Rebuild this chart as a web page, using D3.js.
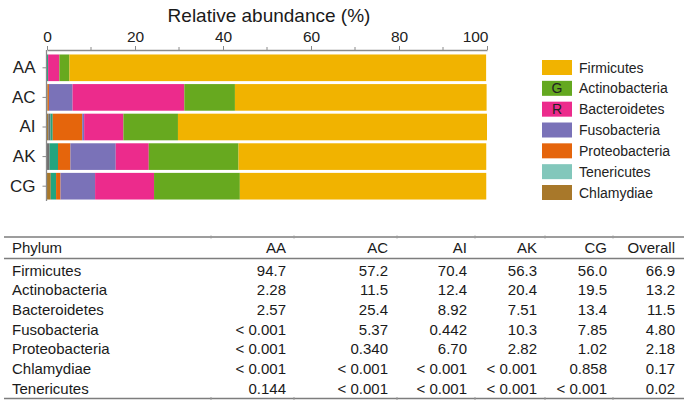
<!DOCTYPE html>
<html><head><meta charset="utf-8">
<script src="https://cdn.jsdelivr.net/npm/d3@7"></script>
<style>
html,body{margin:0;padding:0;background:#fff;}
svg{display:block;font-family:"Liberation Sans",Arial,sans-serif;}
</style></head>
<body>
<svg id="chart" width="687" height="404"></svg>
<script>
// ---- data ----
const sites = ["AA","AC","AI","AK","CG"];
const tickValues = [0,20,40,60,80,100];
const minorTicks = [10,30,50,70,90];
// bar segment values, stacked left to right
const chlamydiae    = [0, 0, 0.3, 0, 0.86];
const other         = [0, 0, 0.5, 0.6, 0];
const tenericutes   = [0.25, 0.1, 0.5, 1.9, 1.2];
const proteobacteria= [0, 0.34, 6.70, 2.82, 1.02];
const fusobacteria  = [0, 5.37, 0.442, 10.3, 7.85];
const bacteroidetes = [2.57, 25.4, 8.92, 7.51, 13.4];
const actinobacteria= [2.28, 11.5, 12.4, 20.4, 19.5];
const firmicutes    = [94.7, 57.2, 70.4, 56.3, 56.0];

const legendNames = ["Firmicutes","Actinobacteria","Bacteroidetes","Fusobacteria","Proteobacteria","Tenericutes","Chlamydiae"];
const legendMarks = ["","G","R","","","",""];

const tableHeader = ["Phylum","AA","AC","AI","AK","CG","Overall"];
const tablePhyla = ["Firmicutes","Actinobacteria","Bacteroidetes","Fusobacteria","Proteobacteria","Chlamydiae","Tenericutes"];
const colAA      = ["94.7","2.28","2.57","< 0.001","< 0.001","< 0.001","0.144"];
const colAC      = ["57.2","11.5","25.4","5.37","0.340","< 0.001","< 0.001"];
const colAI      = ["70.4","12.4","8.92","0.442","6.70","< 0.001","< 0.001"];
const colAK      = ["56.3","20.4","7.51","10.3","2.82","< 0.001","< 0.001"];
const colCG      = ["56.0","19.5","13.4","7.85","1.02","0.858","< 0.001"];
const colOverall = ["66.9","13.2","11.5","4.80","2.18","0.17","0.02"];

// ---- build ----
const keys = ["Chlamydiae","Other","Tenericutes","Proteobacteria","Fusobacteria","Bacteroidetes","Actinobacteria","Firmicutes"];
const series = [chlamydiae,other,tenericutes,proteobacteria,fusobacteria,bacteroidetes,actinobacteria,firmicutes];
const rows = sites.map((s,i)=>{const r={site:s}; keys.forEach((k,j)=>r[k]=series[j][i]); return r;});
const colors = {
  Firmicutes:"#f1b300", Actinobacteria:"#67a91f", Bacteroidetes:"#ec2b8c",
  Fusobacteria:"#7a72b8", Proteobacteria:"#e5650c", Tenericutes:"#23a47f",
  Chlamydiae:"#a8782a", Other:"#6f6f6f"
};
const legendColors = {
  Firmicutes:"#f1b300", Actinobacteria:"#64a820", Bacteroidetes:"#ec2b8c",
  Fusobacteria:"#7a72b8", Proteobacteria:"#e5650c", Tenericutes:"#82c7bb",
  Chlamydiae:"#a8782a"
};
const FONT = "Liberation Sans, Arial, sans-serif";

const svg = d3.select("#chart");
const x = d3.scaleLinear().domain([0,100]).range([47,487]);
const y = d3.scaleBand().domain(sites).range([53,201]).paddingInner(0.1).paddingOuter(0.05);

const stack = d3.stack().keys(keys)(rows);
svg.append("g").selectAll("g").data(stack).join("g")
  .attr("fill", d=>colors[d.key])
  .selectAll("rect").data(d=>d).join("rect")
  .attr("x", d=>x(Math.min(d[0],100)))
  .attr("width", d=>Math.max(0, x(Math.min(d[1],100))-x(Math.min(d[0],100))))
  .attr("y", d=>y(d.data.site))
  .attr("height", y.bandwidth());

// title
svg.append("text").attr("x",269).attr("y",22).attr("text-anchor","middle")
  .attr("font-size",19).attr("fill","#1a1a1a").text("Relative abundance (%)");

// top axis
const xAxis = svg.append("g").attr("transform","translate(0,50)")
  .call(d3.axisTop(x).tickValues(tickValues).tickSize(4).tickPadding(4).tickSizeOuter(0));
xAxis.select(".domain").attr("stroke","#8a8a8a").attr("stroke-width",1.3);
xAxis.selectAll(".tick line").attr("stroke","#8a8a8a");
xAxis.selectAll("text").attr("font-size",15.5).attr("fill","#222").attr("font-family",FONT);
xAxis.selectAll(".tick").filter(d=>d===100).select("text").attr("text-anchor","end").attr("x",1);
svg.append("g").selectAll("line").data(minorTicks).join("line")
  .attr("x1",d=>x(d)).attr("x2",d=>x(d)).attr("y1",50).attr("y2",47)
  .attr("stroke","#8a8a8a");

// left axis
const yAxis = svg.append("g").attr("transform","translate(46.5,0)")
  .call(d3.axisLeft(y).tickSize(4).tickPadding(7).tickSizeOuter(0));
yAxis.select(".domain").attr("stroke","#8a8a8a").attr("stroke-width",1.3).attr("d","M0,50V201");
yAxis.selectAll(".tick line").attr("stroke","#8a8a8a");
yAxis.selectAll("text").attr("font-size",17).attr("fill","#222").attr("font-family",FONT);

// legend
const lg = svg.append("g");
const ly = d3.scalePoint().domain(legendNames).range([67.5,192.5]);
legendNames.forEach((n,i)=>{
  lg.append("rect").attr("x",542).attr("y",ly(n)-7.5).attr("width",30).attr("height",15).attr("fill",legendColors[n]);
  if (legendMarks[i]) lg.append("text").attr("x",557).attr("y",ly(n)+5).attr("text-anchor","middle")
    .attr("font-size",14).attr("fill","#222").text(legendMarks[i]);
  lg.append("text").attr("x",579).attr("y",ly(n)+5).attr("font-size",14).attr("fill","#222").text(n);
});

// table
const cols = [tablePhyla,colAA,colAC,colAI,colAK,colCG,colOverall];
const colX = [12,286,388,467,537,607,675];
const colSep = [211,294,397,475,545,613];
const ry = d3.scalePoint().domain(d3.range(tablePhyla.length)).range([270,388]);
const tb = svg.append("g").attr("fill","#1a1a1a").attr("font-size",15);
[237,258.5,398.5].forEach(yy=>{
  tb.append("line").attr("x1",4).attr("x2",684).attr("y1",yy).attr("y2",yy)
    .attr("stroke","#7d7d7d").attr("stroke-width",1.3);
});
colSep.forEach(cx=>{
  tb.append("line").attr("x1",cx).attr("x2",cx).attr("y1",235.5).attr("y2",238.5).attr("stroke","#999");
  tb.append("line").attr("x1",cx).attr("x2",cx).attr("y1",397).attr("y2",400).attr("stroke","#999");
});
tableHeader.forEach((h,j)=>{
  tb.append("text").attr("x",colX[j]).attr("y",253).attr("text-anchor",j===0?"start":"end").text(h);
});
cols.forEach((c,j)=>{
  c.forEach((v,i)=>{
    tb.append("text").attr("x",colX[j]).attr("y",ry(i)+5.5).attr("text-anchor",j===0?"start":"end").text(v);
  });
});
</script>
</body></html>
